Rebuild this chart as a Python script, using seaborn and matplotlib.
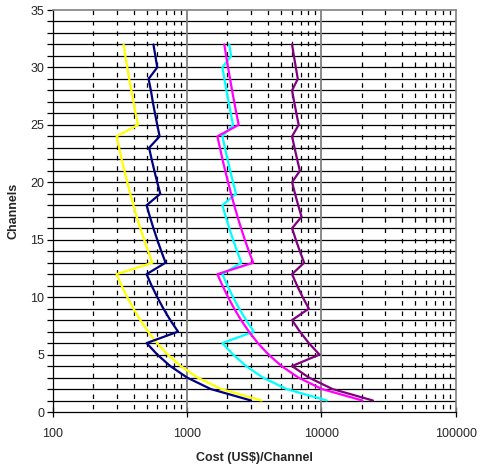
import matplotlib
matplotlib.use("Agg")
import matplotlib.pyplot as plt
import matplotlib.ticker as mticker
import seaborn as sns
import pandas as pd

channels = list(range(1, 33))

yellow = [3590, 1795, 1197, 898, 718, 598, 513, 449, 399, 359, 326, 299,
          552, 513, 479, 449, 422, 399, 378, 359, 342, 326, 312, 299,
          431, 414, 399, 385, 371, 359, 347, 337]
navy = [3000, 1500, 1000, 750, 600, 500,
        857, 750, 667, 600, 545, 500,
        692, 643, 600, 562, 529, 500,
        632, 600, 571, 545, 522,
        625, 600, 577, 556, 538, 517,
        600, 581, 562]
cyan = [11000, 5500, 3667, 2750, 2200, 1833,
        3143, 2750, 2444, 2200, 2000, 1833,
        2538, 2357, 2200, 2062, 1941, 1833,
        2316, 2200, 2095, 2000, 1913, 1833,
        2200, 2115, 2037, 1964, 1897, 1833,
        2129, 2062]
magenta = [20200, 10100, 6733, 5050, 4040, 3367, 2886, 2525, 2244, 2020, 1836, 1683,
           3108, 2886, 2693, 2525, 2376, 2244, 2126, 2020, 1924, 1836, 1757, 1683,
           2424, 2331, 2244, 2164, 2090, 2020, 1955, 1894]
purple = [24200, 12100, 8067, 6050, 9680, 8067, 6914, 6050,
          8067, 7260, 6600, 6050, 7446, 6914, 6453, 6050,
          7118, 6722, 6368, 6050, 6914, 6600, 6313, 6050,
          6776, 6515, 6274, 6050, 6676, 6453, 6245, 6050]

series = {"A": yellow, "B": navy, "C": cyan, "D": magenta, "E": purple}
colors = {"A": "#FFFF00", "B": "#000080", "C": "#00FFFF", "D": "#FF00FF", "E": "#800080"}

x_ticks = [100, 1000, 10000, 100000]
x_labels = ["100", "1000", "10000", "100000"]
y_ticks = [0, 5, 10, 15, 20, 25, 30, 35]

rows = []
for name, vals in series.items():
    for ch, v in zip(channels, vals):
        rows.append({"series": name, "cost": v, "channels": ch})
df = pd.DataFrame(rows)

sns.set_style("white")
plt.rcParams["font.family"] = ["Liberation Sans", "DejaVu Sans"]

fig = plt.figure(figsize=(4.81, 4.70), dpi=100)
ax = fig.add_axes([0.1096, 0.1234, 0.8378, 0.8553])

ax.set_xscale("log")
ax.set_xlim(100, 100000)
ax.set_ylim(0, 35)

# gridlines
for yv in range(1, 35):
    ax.axhline(yv, color="black", lw=0.9, zorder=1)
for xv in [1000, 10000]:
    ax.axvline(xv, color="#808080", lw=1.3, zorder=1)
for dec in [100, 1000, 10000]:
    for m in range(2, 10):
        ax.axvline(dec * m, color="black", lw=0.9,
                   linestyle=(5.8, (3.6, 4.7)), zorder=1)

sns.lineplot(data=df, x="cost", y="channels", hue="series", palette=colors,
             sort=False, estimator=None, lw=1.6, legend=False, ax=ax, zorder=3)

ax.xaxis.set_major_locator(mticker.FixedLocator(x_ticks))
ax.xaxis.set_major_formatter(mticker.FixedFormatter(x_labels))
ax.xaxis.set_minor_locator(mticker.NullLocator())
ax.yaxis.set_major_locator(mticker.FixedLocator(y_ticks))
ax.yaxis.set_minor_locator(mticker.MultipleLocator(1))

ax.tick_params(axis="x", which="major", direction="inout", length=7, width=0.9,
               labelsize=9, pad=8, color="black", bottom=True)
ax.tick_params(axis="y", which="major", direction="out", length=4, width=0.9,
               labelsize=9, pad=2, color="black", left=True)
ax.tick_params(axis="y", which="minor", direction="out", length=4, width=0.9,
               color="black", left=True)

for s in ["left", "bottom"]:
    ax.spines[s].set_color("black")
    ax.spines[s].set_linewidth(0.9)
for s in ["top", "right"]:
    ax.spines[s].set_color("#808080")
    ax.spines[s].set_linewidth(1.2)

ax.set_xlabel("Cost (US$)/Channel", fontsize=9, fontweight="bold", labelpad=9)
ax.set_ylabel("Channels", fontsize=9, fontweight="bold", labelpad=8)

fig.savefig("out.png", dpi=100)
